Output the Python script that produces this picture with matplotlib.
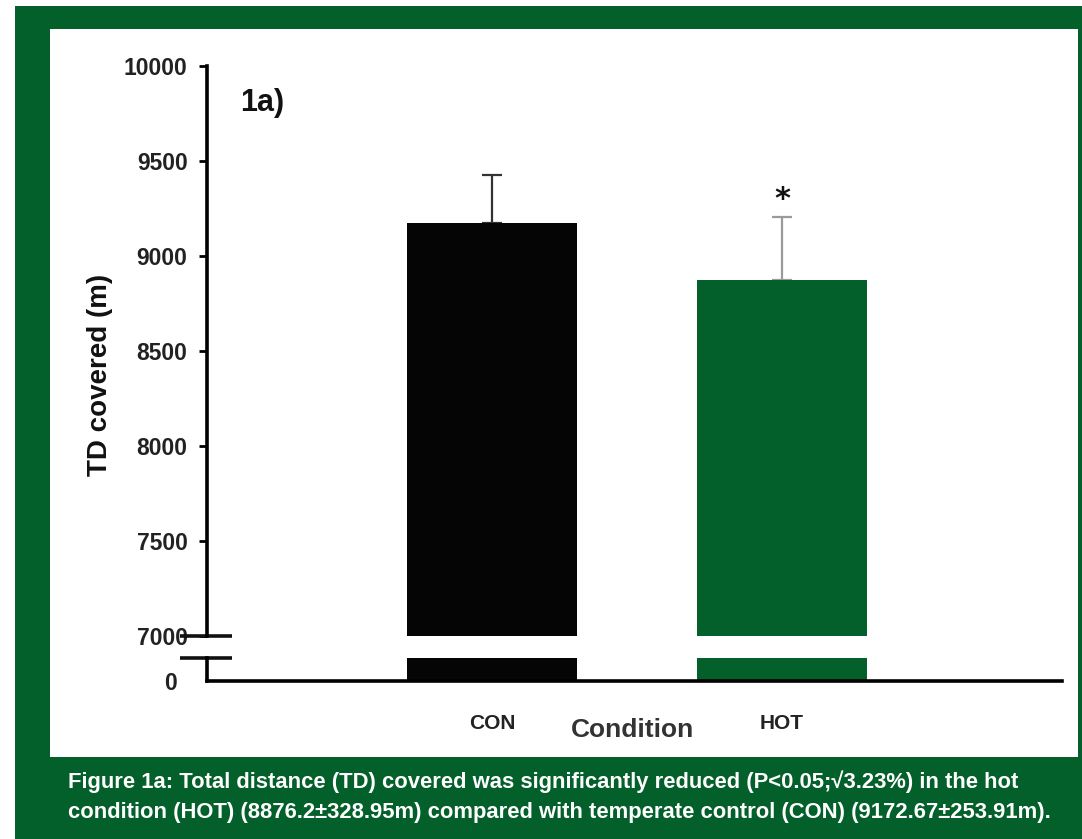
import matplotlib.pyplot as plt
from matplotlib.patches import Rectangle
import matplotlib.transforms as mtransforms

categories = ['CON', 'HOT']
means = [9172.67, 8876.2]
sems = [253.91, 328.95]
bar_colors = ['#050505', '#03602a']
err_colors = ['#333333', '#9a9a9a']
yticks = [7000, 7500, 8000, 8500, 9000, 9500, 10000]
caption = ('Figure 1a: Total distance (TD) covered was significantly reduced (P<0.05;\u221a3.23%) in the hot\n'
           'condition (HOT) (8876.2\u00b1328.95m) compared with temperate control (CON) (9172.67\u00b1253.91m).')

W, H = 1082, 839
green = '#03602a'
fig = plt.figure(figsize=(W / 100, H / 100), dpi=100)
fig.patch.set_facecolor('white')

# green frame and white panel
fig.patches.append(Rectangle((15 / W, 0), (W - 15) / W, 1 - 6 / H, transform=fig.transFigure,
                             facecolor=green, edgecolor='none', zorder=-2))
fig.patches.append(Rectangle((50 / W, 1 - 757 / H), (1078 - 50) / W, (757 - 29) / H,
                             transform=fig.transFigure, facecolor='white', edgecolor='none', zorder=-1))

x0, x1 = 207, 1062
left = x0 / W
width = (x1 - x0) / W
ax = fig.add_axes([left, 1 - 636 / H, width, (636 - 66) / H])
axb = fig.add_axes([left, 1 - 681 / H, width, (681 - 658) / H])
for a in (ax, axb):
    a.patch.set_alpha(0)

pos = [0, 1]
xlim = (-0.983, 1.966)
bw = 0.585

ax.bar(pos, means, width=bw, color=bar_colors, zorder=2)
for p, m, s, c in zip(pos, means, sems, err_colors):
    ax.errorbar(p, m, yerr=[[0], [s]], fmt='none', ecolor=c, elinewidth=1.6,
                capsize=7, capthick=1.6, zorder=1)
ax.set_ylim(7000, 10000)
ax.set_xlim(*xlim)
ax.set_yticks(yticks)
ax.set_yticklabels([str(v) for v in yticks])
ax.tick_params(axis='y', length=6, width=2, direction='out', labelsize=16.5, pad=8)
ax.set_xticks([])
for sp in ['top', 'right', 'bottom']:
    ax.spines[sp].set_visible(False)
ax.spines['left'].set_linewidth(2.6)
for lbl in ax.get_yticklabels():
    lbl.set_fontweight('bold')
    lbl.set_fontfamily('Liberation Sans')
    lbl.set_color('#222222')

# lower stub axis
axb.bar(pos, means, width=bw, color=bar_colors, zorder=2)
axb.set_ylim(0, 100)
axb.set_xlim(*xlim)
axb.set_yticks([0])
axb.set_yticklabels(['0'])
axb.tick_params(axis='y', length=0, labelsize=16.5, pad=22)
axb.set_xticks(pos)
axb.set_xticklabels(categories)
axb.tick_params(axis='x', length=0, labelsize=15, pad=24)
for lbl in axb.get_yticklabels() + axb.get_xticklabels():
    lbl.set_fontweight('bold')
    lbl.set_fontfamily('Liberation Sans')
    lbl.set_color('#222222')
for sp in ['top', 'right']:
    axb.spines[sp].set_visible(False)
axb.spines['left'].set_linewidth(2.6)
axb.spines['bottom'].set_linewidth(2.6)

# break marks
trans = mtransforms.blended_transform_factory(ax.transAxes, ax.transData)
ax.plot([-27 / (x1 - x0), 25 / (x1 - x0)], [7000, 7000], color='#111111', lw=2.6,
        transform=trans, clip_on=False, solid_capstyle='butt')
transb = mtransforms.blended_transform_factory(axb.transAxes, axb.transAxes)
axb.plot([-27 / (x1 - x0), 25 / (x1 - x0)], [1, 1], color='#111111', lw=2.6,
         transform=transb, clip_on=False, solid_capstyle='butt')

ax.text(33 / (x1 - x0), 0.935, '1a)', transform=ax.transAxes, fontsize=22, fontweight='bold',
        family='Liberation Sans', ha='left', va='center', color='#111111')
ax.text(1, means[1] + sems[1] + 15, '*', ha='center', va='bottom', fontsize=22,
        fontweight='bold', color='#111111')

fig.text(100 / W, 1 - 375 / H, 'TD covered (m)', rotation=90, ha='center', va='center',
         fontsize=20, fontweight='bold', family='Liberation Sans', color='#111111')
fig.text(633 / W, 1 - 730 / H, 'Condition', ha='center', va='center',
         fontsize=19, fontweight='bold', family='Liberation Sans', color='#333333')

fig.text(68 / W, 1 - 797 / H, caption, ha='left', va='center', color='white',
         fontsize=15.8, fontweight='bold', linespacing=1.55,
         family=['Liberation Sans', 'DejaVu Sans'])

fig.savefig('out.png', dpi=100)
